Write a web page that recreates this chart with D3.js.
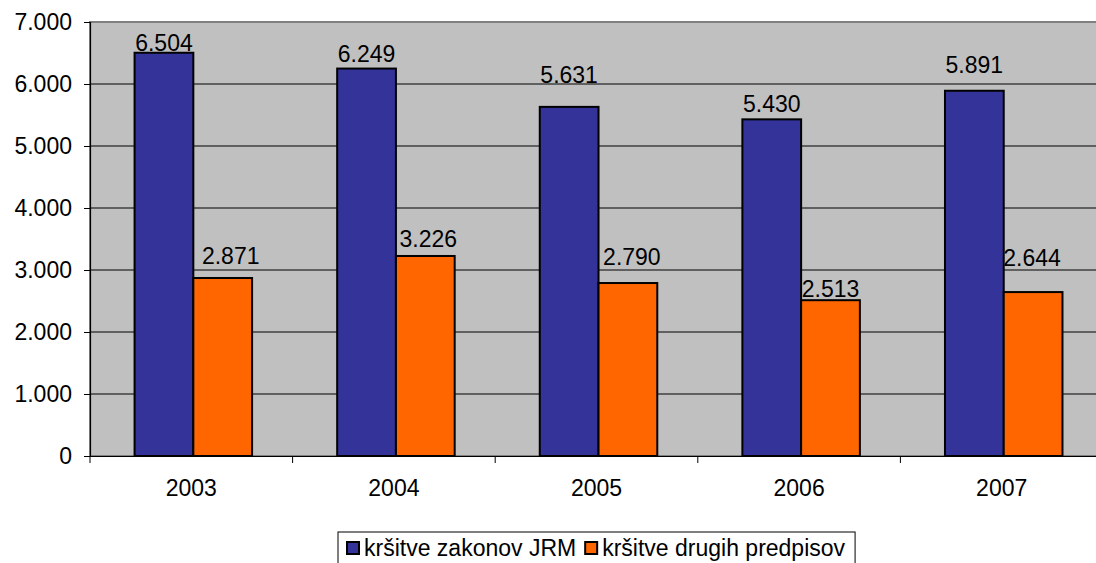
<!DOCTYPE html>
<html>
<head>
<meta charset="utf-8">
<script src="https://cdn.jsdelivr.net/npm/d3@7"></script>
<style>
  body { margin: 0; background: #fff; }
  text { font-family: "Liberation Sans", Arial, sans-serif; fill: #000; }
</style>
</head>
<body>
<div id="chart-area"></div>
<script>
// data
var years = ["2003", "2004", "2005", "2006", "2007"]
var zakonovJRM = [6504, 6249, 5631, 5430, 5891]
var drugihPredpisov = [2871, 3226, 2790, 2513, 2644]
var seriesNames = ["kršitve zakonov JRM", "kršitve drugih predpisov"]
var seriesColors = ["#333399", "#FF6600"]
var yTicks = [0, 1000, 2000, 3000, 4000, 5000, 6000, 7000]

// value labels were hand-placed in the original, lift them by these amounts (px)
var liftJRM = [2, 7, 24, 7, 18]
var liftDrugih = [14, 9, 18, 3, 26]
var shiftDrugih = [8, 3, 4, 0, -1]

var width = 1096, height = 563
var plotLeft = 90, plotTop = 22, plotRight = 1103, plotBottom = 456
var fontSize = "23px"

var sl = d3.formatLocale({decimal: ",", thousands: ".", grouping: [3], currency: ["", ""]})
var fmt = sl.format(",")

var svg = d3.select("#chart-area").append("svg")
    .attr("width", width)
    .attr("height", height)

var x0 = d3.scaleBand().domain(years).range([plotLeft, plotRight]).padding(0)
var bw = x0.bandwidth()
var x1 = d3.scaleBand().domain([0, 1]).range([bw * 0.22, bw * 0.80])
var y = d3.scaleLinear().domain([0, 7000]).range([plotBottom, plotTop])

// plot area
svg.append("rect")
    .attr("x", plotLeft).attr("y", plotTop)
    .attr("width", plotRight - plotLeft).attr("height", plotBottom - plotTop)
    .attr("fill", "#C0C0C0")
    .attr("stroke", "#808080")
    .attr("stroke-width", 2)

// gridlines
svg.append("g").selectAll("line")
    .data(yTicks.slice(1, -1))
    .enter().append("line")
    .attr("x1", plotLeft).attr("x2", plotRight)
    .attr("y1", function(d){ return y(d) }).attr("y2", function(d){ return y(d) })
    .attr("stroke", "#000").attr("stroke-width", 1)

// y axis
var yAxis = svg.append("g")
    .attr("transform", "translate(" + plotLeft + ",0)")
    .call(d3.axisLeft(y).tickValues(yTicks).tickFormat(fmt).tickSize(6).tickPadding(12))
yAxis.select(".domain").attr("stroke", "#000").attr("stroke-width", 1.2)
yAxis.selectAll("text").style("font-size", fontSize).attr("font-family", null)

// bars
var rows = years.map(function(yr, i){ return {year: yr, vals: [zakonovJRM[i], drugihPredpisov[i]], i: i} })

var groups = svg.append("g").selectAll("g")
    .data(rows)
    .enter().append("g")
    .attr("transform", function(d){ return "translate(" + x0(d.year) + ",0)" })

groups.selectAll("rect")
    .data(function(d){ return d.vals.map(function(v, s){ return {v: v, s: s, i: d.i} }) })
    .enter().append("rect")
    .attr("x", function(d){ return x1(d.s) })
    .attr("y", function(d){ return y(d.v) })
    .attr("width", x1.bandwidth())
    .attr("height", function(d){ return y(0) - y(d.v) })
    .attr("fill", function(d){ return seriesColors[d.s] })
    .attr("stroke", "#000")
    .attr("stroke-width", 2)

groups.selectAll("text.lbl")
    .data(function(d){ return d.vals.map(function(v, s){ return {v: v, s: s, i: d.i} }) })
    .enter().append("text")
    .attr("class", "lbl")
    .attr("x", function(d){
        var dx = d.s == 1 ? shiftDrugih[d.i] : 0
        return x1(d.s) + x1.bandwidth() / 2 + dx
    })
    .attr("y", function(d){
        var lift = d.s == 0 ? liftJRM[d.i] : liftDrugih[d.i]
        return y(d.v) - lift
    })
    .attr("text-anchor", "middle")
    .style("font-size", fontSize)
    .text(function(d){ return fmt(d.v) })

// x axis
var xAxis = svg.append("g")
    .attr("transform", "translate(0," + plotBottom + ")")
    .call(d3.axisBottom(x0).tickSize(0).tickPadding(24))
xAxis.select(".domain").attr("stroke", "#000").attr("stroke-width", 1.2)
xAxis.selectAll("text").style("font-size", fontSize).attr("font-family", null)
xAxis.selectAll("line.sep")
    .data(years.concat(["end"]))
    .enter().append("line")
    .attr("class", "sep")
    .attr("x1", function(d, i){ return plotLeft + i * bw })
    .attr("x2", function(d, i){ return plotLeft + i * bw })
    .attr("y1", 0).attr("y2", 7)
    .attr("stroke", "#000")

// legend
var legend = svg.append("g")
var lx = 338, ly = 532
var box = legend.append("rect")
    .attr("x", lx).attr("y", ly)
    .attr("height", 34)
    .attr("fill", "#fff").attr("stroke", "#000").attr("stroke-width", 1)

var cx = lx + 9
seriesNames.forEach(function(name, s){
    legend.append("rect")
        .attr("x", cx).attr("y", ly + 10)
        .attr("width", 12).attr("height", 12)
        .attr("fill", seriesColors[s])
        .attr("stroke", "#000").attr("stroke-width", 2)
    var t = legend.append("text")
        .attr("x", cx + 17).attr("y", ly + 24)
        .style("font-size", fontSize)
        .text(name)
    cx += 17 + t.node().getComputedTextLength() + 9
})
box.attr("width", cx - lx + 1)
</script>
</body>
</html>
